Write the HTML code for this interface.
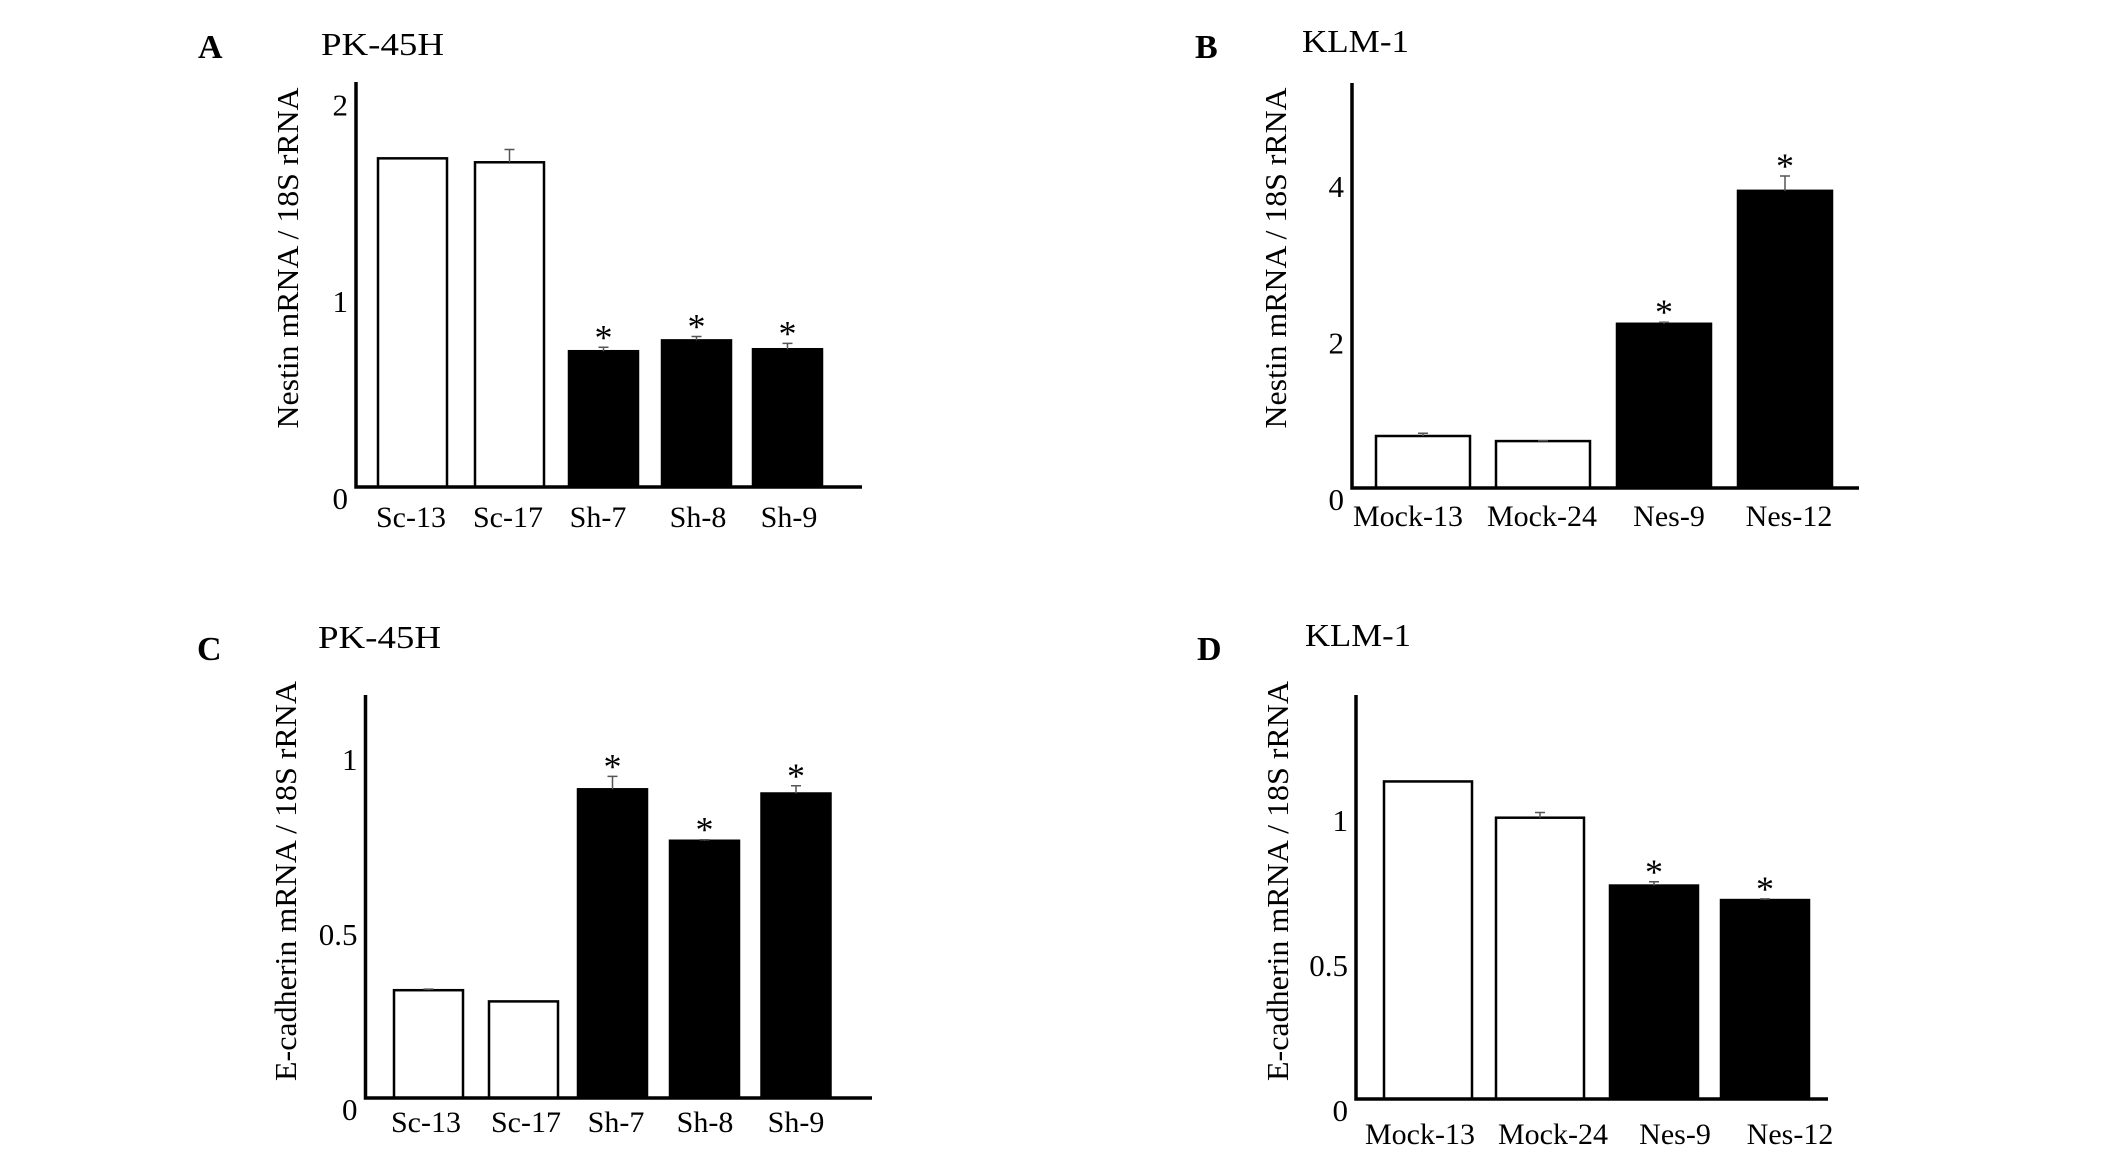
<!DOCTYPE html>
<html><head><meta charset="utf-8"><style>
html,body{margin:0;padding:0;background:#fff;overflow:hidden;}
svg{display:block;}
text{font-family:"Liberation Serif",serif;fill:#000;}
</style></head>
<body>
<svg id="fig" width="2126" height="1154" viewBox="0 0 2126 1154" xmlns="http://www.w3.org/2000/svg"></svg>
<script>
// Panel A data
const catsA = ["Sc-13","Sc-17","Sh-7","Sh-8","Sh-9"];
const valsA = [1.67,1.65,0.69,0.745,0.70];
const errsA = [0,0.065,0.02,0.02,0.03];
const sigA = [false,false,true,true,true];
const ticksA = ["0","1","2"];
const tickValsA = [0,1,2];
// Panel B data
const catsB = ["Mock-13","Mock-24","Nes-9","Nes-12"];
const valsB = [0.665,0.60,2.10,3.80];
const errsB = [0.035,0.005,0.02,0.19];
const sigB = [false,false,true,true];
const ticksB = ["0","2","4"];
const tickValsB = [0,2,4];
// Panel C data
const catsC = ["Sc-13","Sc-17","Sh-7","Sh-8","Sh-9"];
const valsC = [0.308,0.276,0.882,0.735,0.870];
const errsC = [0.003,0,0.037,0.003,0.022];
const sigC = [false,false,true,true,true];
const ticksC = ["0","0.5","1"];
const tickValsC = [0,0.5,1];
// Panel D data
const catsD = ["Mock-13","Mock-24","Nes-9","Nes-12"];
const valsD = [1.095,0.97,0.736,0.686];
const errsD = [0,0.018,0.013,0.004];
const sigD = [false,false,true,true];
const ticksD = ["0","0.5","1"];
const tickValsD = [0,0.5,1];

const NS="http://www.w3.org/2000/svg";
const svg=document.getElementById('fig');
function mk(tag,attrs,parent){const e=document.createElementNS(NS,tag);for(const k in attrs)e.setAttribute(k,attrs[k]);(parent||svg).appendChild(e);return e;}

function panel(cfg){
  const g=mk('g',{});
  
  
  const y=v=>cfg.base-v*cfg.unit;
  const L=mk('text',{x:cfg.letterX,y:cfg.letterY,'font-size':34,'font-weight':'bold'},g);L.textContent=cfg.letter;
  
  
  const T=mk('text',{x:cfg.titleX,y:cfg.titleY,'font-size':32,textLength:cfg.titleW,lengthAdjust:'spacingAndGlyphs'},g);T.textContent=cfg.title;
  
  
  const yl=mk('text',{x:0,y:0,'font-size':31,'text-anchor':'middle',textLength:cfg.ylW,lengthAdjust:'spacingAndGlyphs',transform:`translate(${cfg.ylX},${cfg.ylY}) rotate(-90)`},g);
  yl.textContent=cfg.ylabel;
  
  
  cfg.ticks.forEach((t,i)=>{
    const tx=mk('text',{x:cfg.axisX-8,y:y(cfg.tickVals[i])+22,'font-size':31,'text-anchor':'end'},g);
    tx.textContent=t;
    
    
  });
  cfg.vals.forEach((v,i)=>{
    const x0=cfg.bx[i], w=cfg.bw;
    const filled=cfg.sig[i];
    const r=mk('rect',{x:x0,y:y(v),width:w,height:cfg.base-y(v),fill:filled?'#000':'#fff',stroke:'#000','stroke-width':2.5},g);
    
    
    const cx=x0+w/2, et=y(v+cfg.errs[i]);
    if(cfg.errs[i]>0){
      const e=mk('path',{d:`M${cx},${y(v)} V${et} M${cx-5},${et} H${cx+5}`,stroke:'#555','stroke-width':1.5,fill:'none'},g);
      
      
    }
    if(cfg.sig[i]){
      const s=mk('text',{x:cx,y:et+2,'font-size':36,'text-anchor':'middle'},g);s.textContent='*';
      
      
    }
    const c=mk('text',{x:cfg.lx[i],y:cfg.labelY,'font-size':30,'text-anchor':'middle'},g);
    c.textContent=cfg.cats[i];
    
    
  });
  const ax=mk('path',{d:`M${cfg.axisX},${cfg.top} V${cfg.base} H${cfg.axisEnd}`,stroke:'#000','stroke-width':3.5,fill:'none'},g);
  
  
}

panel({letter:'A',letterX:198,letterY:58,title:'PK-45H',titleX:321,titleY:55,titleW:123,
  ylabel:'Nestin mRNA / 18S rRNA',ylX:298,ylY:258,ylW:341,
  axisX:356,top:82,base:487,unit:196.8,axisEnd:862,
  cats:catsA,vals:valsA,errs:errsA,sig:sigA,ticks:ticksA,tickVals:tickValsA,
  bx:[378,475,569,662,753],bw:69,lx:[411,508,598,698,789],labelY:527});
panel({letter:'B',letterX:1195,letterY:58,title:'KLM-1',titleX:1302,titleY:52,titleW:107,
  ylabel:'Nestin mRNA / 18S rRNA',ylX:1286,ylY:258,ylW:341,
  axisX:1352,top:83,base:488,unit:78.2,axisEnd:1859,
  cats:catsB,vals:valsB,errs:errsB,sig:sigB,ticks:ticksB,tickVals:tickValsB,
  bx:[1376,1496,1617,1738],bw:94,lx:[1408,1542,1669,1789],labelY:526});
panel({letter:'C',letterX:197,letterY:660,title:'PK-45H',titleX:318,titleY:648,titleW:123,
  ylabel:'E-cadherin mRNA / 18S rRNA',ylX:296,ylY:881,ylW:400,
  axisX:365.5,top:695,base:1098,unit:350,axisEnd:872,
  cats:catsC,vals:valsC,errs:errsC,sig:sigC,ticks:ticksC,tickVals:tickValsC,
  bx:[394,489,578,670,761.5],bw:69,lx:[426,526,616,705,796],labelY:1132});
panel({letter:'D',letterX:1197,letterY:660,title:'KLM-1',titleX:1305,titleY:646,titleW:106,
  ylabel:'E-cadherin mRNA / 18S rRNA',ylX:1288,ylY:881,ylW:400,
  axisX:1356,top:695,base:1099,unit:290,axisEnd:1828,
  cats:catsD,vals:valsD,errs:errsD,sig:sigD,ticks:ticksD,tickVals:tickValsD,
  bx:[1384,1496,1610,1721],bw:88,lx:[1420,1553,1675,1790],labelY:1144});
</script>
</body></html>
